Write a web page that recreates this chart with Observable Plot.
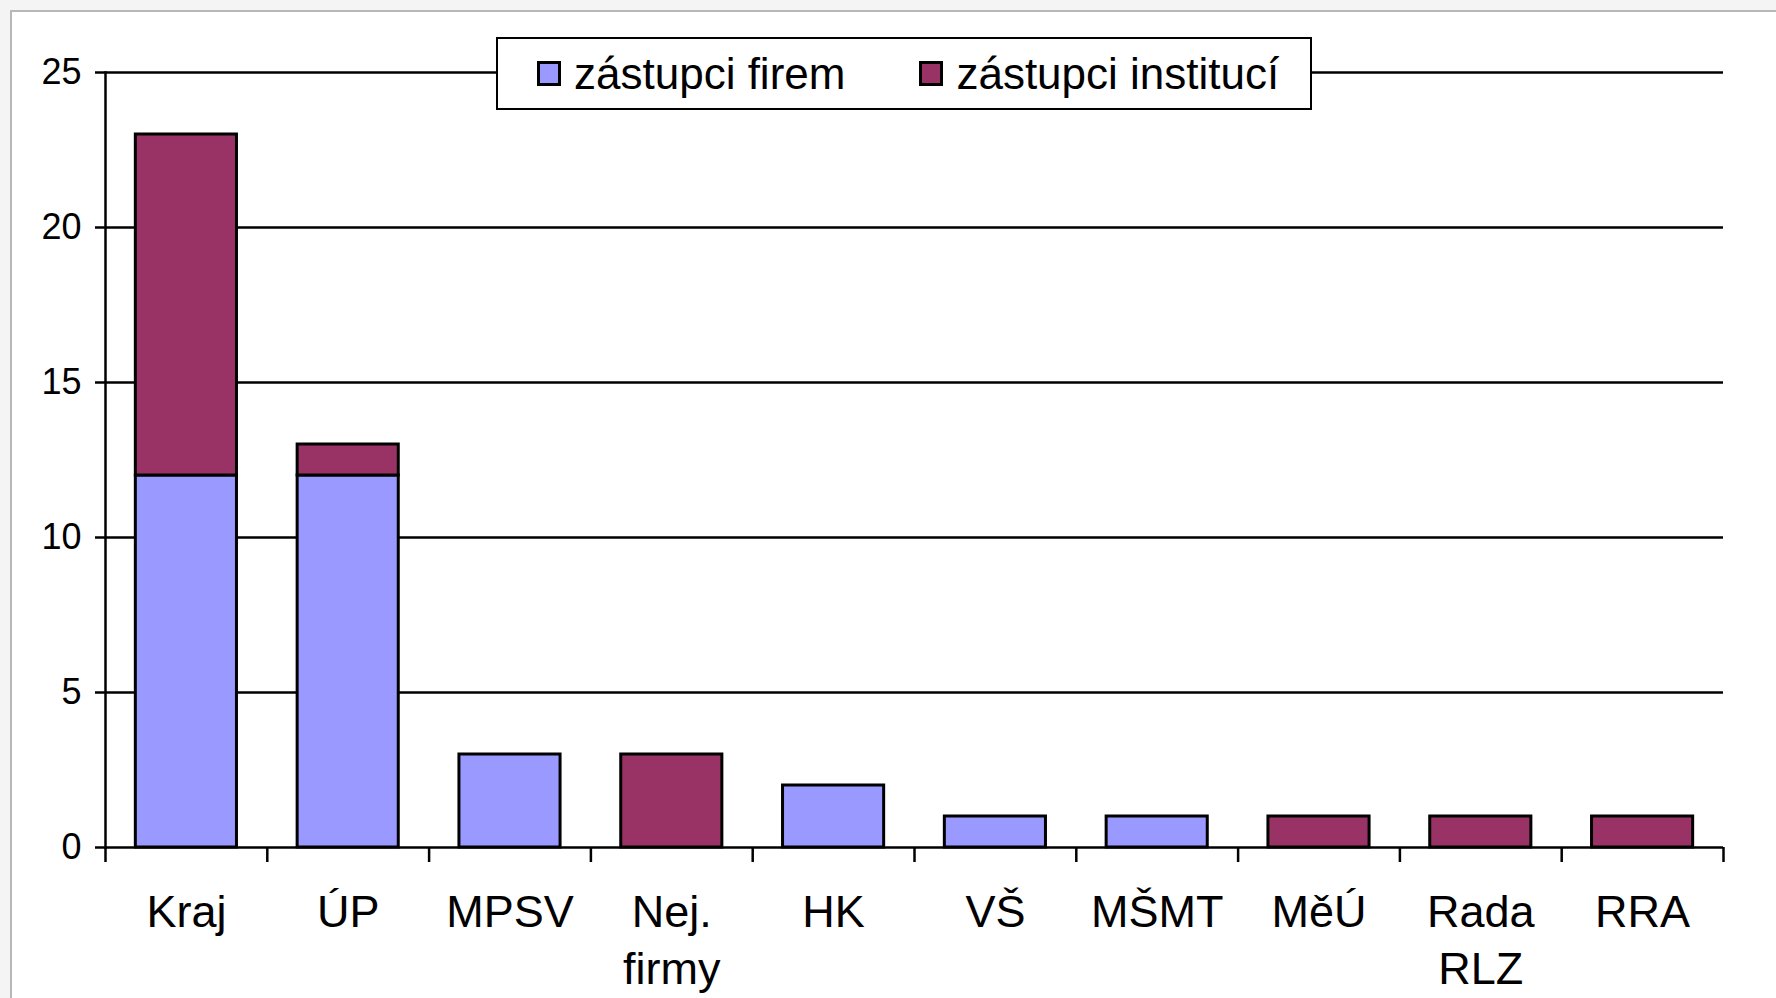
<!DOCTYPE html>
<html>
<head>
<meta charset="utf-8">
<script src="https://cdn.jsdelivr.net/npm/d3@7"></script>
<script src="https://cdn.jsdelivr.net/npm/@observablehq/plot@0.6"></script>
<style>
  html, body { margin: 0; padding: 0; background: #f4f4f4; width: 1776px; height: 998px; overflow: hidden; }
  #frame { position: absolute; left: 10px; top: 10px; width: 1766px; height: 988px; background: #fff;
           border-top: 2px solid #b8b8b8; border-left: 2px solid #b8b8b8; box-sizing: border-box; }
  #chart { position: absolute; left: 12px; top: 12px; }
  #legend { position: absolute; left: 496px; top: 37px; width: 816px; height: 73px; box-sizing: border-box;
            border: 2px solid #000; background: #fff; display: flex; align-items: center; padding-left: 39px;
            font-family: "Liberation Sans", Arial, sans-serif; font-size: 44px; color: #000; }
  .sw { width: 24px; height: 25px; box-sizing: border-box; border: 3px solid #000; margin-right: 13px; }
  .item { display: flex; align-items: center; }
  .item + .item { margin-left: 74px; }
</style>
</head>
<body>
<div id="frame"></div>
<div id="chart"></div>
<div id="legend"></div>
<script>
const categories = ["Kraj", "ÚP", "MPSV", "Nej.\nfirmy", "HK", "VŠ", "MŠMT", "MěÚ", "Rada\nRLZ", "RRA"];
const firem = [12, 12, 3, 0, 2, 1, 1, 0, 0, 0];
const instituci = [11, 1, 0, 3, 0, 0, 0, 1, 1, 1];
const series = ["zástupci firem", "zástupci institucí"];
const colors = ["#9999ff", "#993366"];
const yTicks = [0, 5, 10, 15, 20, 25];

const rows = categories.flatMap((c, i) => [
  {cat: c, series: series[0], value: firem[i]},
  {cat: c, series: series[1], value: instituci[i]}
]).filter(d => d.value > 0);

const W = 1764, H = 986, ML = 93, MR = 53, MT = 60, MB = 151;
const step = (W - ML - MR) / categories.length;

const chart = Plot.plot({
  width: W, height: H,
  marginLeft: ML, marginRight: MR, marginTop: MT, marginBottom: MB,
  style: {fontFamily: "'Liberation Sans', Arial, sans-serif", background: "transparent", color: "#000", overflow: "visible"},
  x: {domain: categories, paddingInner: 0.375, paddingOuter: 0.1875, round: false},
  y: {domain: [0, 25]},
  color: {domain: series, range: colors},
  marks: [
    Plot.ruleY(yTicks.slice(1), {stroke: "#000", strokeWidth: 2.5}),
    Plot.barY(rows, {x: "cat", y: "value", fill: "series", stroke: "#000", strokeWidth: 3}),
    Plot.ruleY([0], {stroke: "#000", strokeWidth: 2.5}),
    Plot.frame({anchor: "left", stroke: "#000", strokeWidth: 2.5}),
    Plot.ruleX(categories, {x: d => d, dx: -step / 2, y1: 0, y2: 0, insetBottom: -15, stroke: "#000", strokeWidth: 2.5}),
    Plot.ruleX(categories.slice(-1), {x: d => d, dx: step / 2, y1: 0, y2: 0, insetBottom: -15, stroke: "#000", strokeWidth: 2.5}),
    Plot.axisY({ticks: yTicks, tickSize: 10, tickPadding: 14, fontSize: 36, tickFormat: d => String(d), strokeWidth: 2.5, label: null}),
    Plot.axisX({tickSize: 0, tickPadding: 39, fontSize: 45, lineHeight: 1.27, tickFormat: d => d, label: null})
  ]
});
document.getElementById("chart").appendChild(chart);

const legend = document.getElementById("legend");
series.forEach((s, i) => {
  const item = document.createElement("div");
  item.className = "item";
  const sw = document.createElement("div");
  sw.className = "sw";
  sw.style.background = colors[i];
  const t = document.createElement("span");
  t.textContent = s;
  item.appendChild(sw);
  item.appendChild(t);
  legend.appendChild(item);
});
</script>
</body>
</html>
